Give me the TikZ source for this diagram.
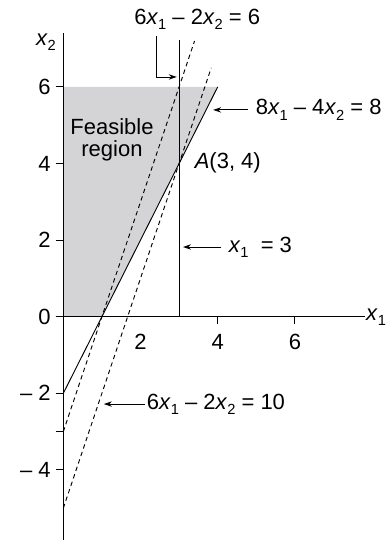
\documentclass[tikz,border=0pt]{standalone}
\usepackage{fontspec}
\setmainfont{Liberation Sans}
\usetikzlibrary{arrows.meta}
\definecolor{regiongray}{RGB}{212,212,215}
\newcommand{\xsub}[2]{\textit{#1}\raisebox{-0.45ex}{\fontsize{11}{12}\selectfont #2}}

\begin{document}
\begin{tikzpicture}[x=28.95pt,y=28.725pt,line width=.7pt,
  every node/.style={font=\fontsize{16.5}{18}\selectfont,inner sep=1pt},
  dashline/.style={dash pattern=on 3.3pt off 2.6pt},
  pointer/.style={-{Stealth[length=6pt,width=4pt]}}]
  \path[use as bounding box] (-1.64,-5.83) rectangle (8.386,8.27);
  % feasible region
  \fill[regiongray] (0,0) -- (1,0) -- (4,6) -- (0,6) -- cycle;
  % axes
  \coordinate (O) at (0,0);
  \draw (-0.2,0) -- (7.82,0);
  \draw (0,-5.83) -- (0,7.4);
  \foreach \y in {6,4,2,0,-2,-3,-4} \draw (-0.2,\y) -- (0,\y);
  \foreach \x in {4,6} \draw (\x,0) -- (\x,-0.2);
  \foreach \y/\t in {6/6,4/4,2/2,0/0,-2/{– 2},-4/{– 4}}
    \node[anchor=east] (ytick\y) at (-0.28,\y) {\t};
  \foreach \x in {2,4,6}
    \node (xtick\x) at (\x,-0.66) {\x};
  \node[anchor=west] (xone) at (7.8,-0.02) {\xsub{x}{1}};
  \node (xtwo) at (-0.45,7.17) {\xsub{x}{2}};
  % constraint lines
  \draw (0,-2) -- (4,6);
  \draw (3,0) -- (3,7.22);
  \draw[dashline] (0,-3) -- (3.4,7.2);
  \draw[dashline] (0,-5) -- (3.833,6.5);
  % labels
  \node[align=center] (feas) at (1.26,4.62) {Feasible\\[-2pt]region};
  \node[anchor=west] (ptA) at (3.36,4.01) {\textit{A}(3, 4)};
  \node (lblsix) at (3.47,7.76) {6\xsub{x}{1} – 2\xsub{x}{2} = 6};
  \node[anchor=west] (lbleight) at (4.94,5.40) {8\xsub{x}{1} – 4\xsub{x}{2} = 8};
  \node[anchor=west] (lblthree) at (4.24,1.82) {\xsub{x}{1}\ \ = 3};
  \node[anchor=west] (lblten) at (2.12,-2.28) {6\xsub{x}{1} – 2\xsub{x}{2} = 10};
  % pointers
  \coordinate (startsix) at (2.42,7.33);
  \coordinate (bendsix) at (2.42,6.26);
  \coordinate (tipsix) at (2.94,6.26);
  \coordinate (tipeight) at (3.88,5.40);
  \coordinate (tipthree) at (3.1,1.82);
  \coordinate (tipten) at (1.05,-2.28);
  \draw[pointer] (startsix) -- (bendsix) -- (tipsix);
  \draw[pointer] (lbleight.west) ++(-0.15,0) -- (tipeight);
  \draw[pointer] (lblthree.west) ++(-0.15,0) -- (tipthree);
  \draw[pointer] (lblten.west) -- (tipten);
\end{tikzpicture}
\end{document}
